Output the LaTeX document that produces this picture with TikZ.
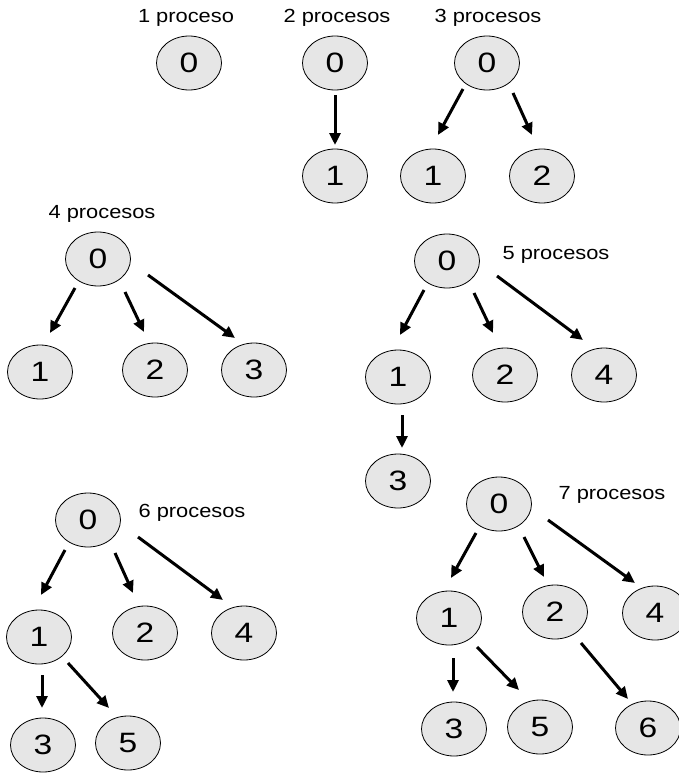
\documentclass[tikz,border=0pt]{standalone}
\usepackage{fontspec}
\setmainfont{Liberation Sans}
\usetikzlibrary{shapes.geometric,arrows.meta,calc}
\definecolor{procfill}{HTML}{E6E6E6}
\tikzset{
  proc/.style={ellipse,draw=black,line width=0.8pt,fill=procfill,minimum width=65pt,minimum height=54pt,inner sep=0pt,font=\fontsize{28}{30}\selectfont},
  lbl/.style={inner sep=0pt,font=\fontsize{19}{21}\selectfont},
  arr/.style={line width=3pt,-{Triangle[length=12pt,width=11pt]}}
}
\newcommand{\dg}[1]{\scalebox{1.2}[1]{#1}}
\newcommand{\lt}[1]{\scalebox{1.15}[1]{#1}}
\begin{document}
\begin{tikzpicture}[x=1pt,y=-1pt]
\useasboundingbox (0,0) rectangle (679,774);
% group 1
\node[lbl] (l1) at (186,18) {\lt{1 proceso}};
\node[proc] (g1a) at (189,63) {\dg{0}};
% group 2
\node[lbl] (l2) at (337,18) {\lt{2 procesos}};
\node[proc] (g2a) at (335,63) {\dg{0}};
\node[proc] (g2b) at (335,176) {\dg{1}};
\draw[arr] ($(g2a)+(0,32)$) -- ($(g2b)+(0,-31)$);
% group 3
\node[lbl] (l3) at (488,18) {\lt{3 procesos}};
\node[proc] (g3a) at (487,63) {\dg{0}};
\node[proc] (g3b) at (433,176) {\dg{1}};
\node[proc] (g3c) at (542,176) {\dg{2}};
\draw[arr] ($(g3a)+(-24,26)$) -- ($(g3b)+(5,-41)$);
\draw[arr] ($(g3a)+(26,30)$) -- ($(g3c)+(-10,-41)$);
% group 4
\node[lbl] (l4) at (102,214) {\lt{4 procesos}};
\node[proc] (g4a) at (98,259) {\dg{0}};
\node[proc] (g4b) at (40,372) {\dg{1}};
\node[proc] (g4c) at (155,370) {\dg{2}};
\node[proc] (g4d) at (254,370) {\dg{3}};
\draw[arr] ($(g4a)+(-23,29)$) -- ($(g4b)+(10,-39)$);
\draw[arr] ($(g4a)+(27,33)$) -- ($(g4c)+(-11,-38)$);
\draw[arr] ($(g4a)+(50,16)$) -- ($(g4d)+(-19,-32)$);
% group 5
\node[lbl] (l5) at (556,255) {\lt{5 procesos}};
\node[proc] (g5a) at (447,261) {\dg{0}};
\node[proc] (g5b) at (398,377) {\dg{1}};
\node[proc] (g5c) at (505,375) {\dg{2}};
\node[proc] (g5d) at (604,375) {\dg{4}};
\node[proc] (g5e) at (398,481) {\dg{3}};
\draw[arr] ($(g5a)+(-23,29)$) -- ($(g5b)+(2,-42)$);
\draw[arr] ($(g5a)+(27,32)$) -- ($(g5c)+(-12,-42)$);
\draw[arr] ($(g5a)+(50,15)$) -- ($(g5d)+(-21,-35)$);
\draw[arr] ($(g5b)+(4,38)$) -- ($(g5e)+(4,-33)$);
% group 6
\node[lbl] (l6) at (192,513) {\lt{6 procesos}};
\node[proc] (g6a) at (88,520) {\dg{0}};
\node[proc] (g6b) at (39,637) {\dg{1}};
\node[proc] (g6c) at (145,633) {\dg{2}};
\node[proc] (g6d) at (244,633) {\dg{4}};
\node[proc] (g6e) at (43,745) {\dg{3}};
\node[proc] (g6f) at (128,743) {\dg{5}};
\draw[arr] ($(g6a)+(-23,30)$) -- ($(g6b)+(2,-42)$);
\draw[arr] ($(g6a)+(27,33)$) -- ($(g6c)+(-12,-40)$);
\draw[arr] ($(g6a)+(50,17)$) -- ($(g6d)+(-21,-33)$);
\draw[arr] ($(g6b)+(3,38)$) -- ($(g6e)+(-1,-37)$);
\draw[arr] ($(g6b)+(29,26)$) -- ($(g6f)+(-19,-35)$);
% group 7
\node[lbl] (l7) at (612,495) {\lt{7 procesos}};
\node[proc] (g7a) at (499,504) {\dg{0}};
\node[proc] (g7b) at (449,618) {\dg{1}};
\node[proc] (g7c) at (555,612) {\dg{2}};
\node[proc] (g7d) at (655,613) {\dg{4}};
\node[proc] (g7e) at (454,729) {\dg{3}};
\node[proc] (g7f) at (540,727) {\dg{5}};
\node[proc] (g7g) at (648,728) {\dg{6}};
\draw[arr] ($(g7a)+(-23,29)$) -- ($(g7b)+(2,-40)$);
\draw[arr] ($(g7a)+(25,33)$) -- ($(g7c)+(-11,-35)$);
\draw[arr] ($(g7a)+(49,16)$) -- ($(g7d)+(-20,-30)$);
\draw[arr] ($(g7b)+(4,40)$) -- ($(g7e)+(-1,-37)$);
\draw[arr] ($(g7b)+(28,29)$) -- ($(g7f)+(-21,-37)$);
\draw[arr] ($(g7c)+(26,31)$) -- ($(g7g)+(-20,-29)$);
\end{tikzpicture}
\end{document}
